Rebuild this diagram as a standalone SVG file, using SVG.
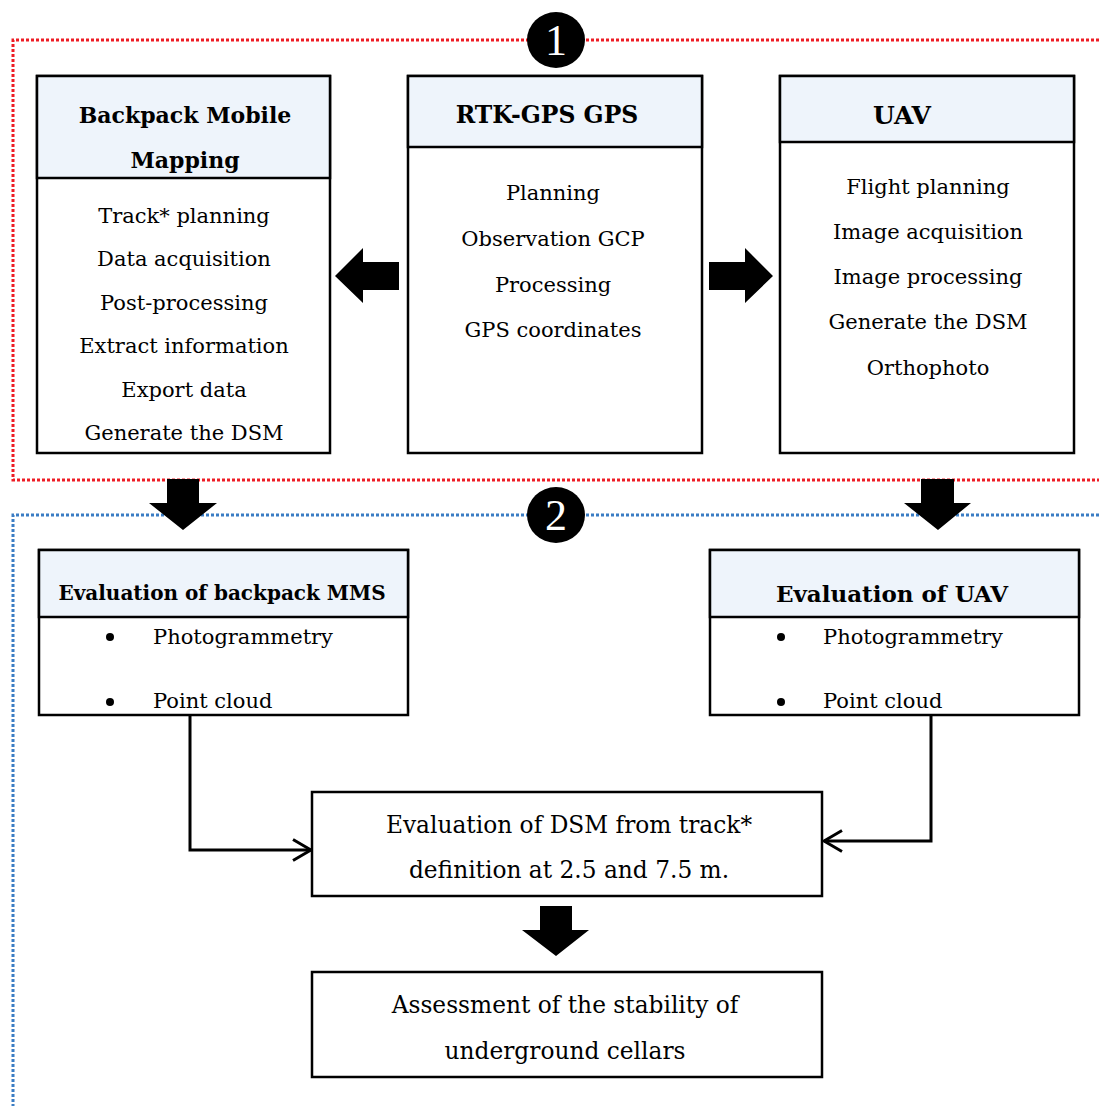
<svg xmlns="http://www.w3.org/2000/svg" width="1099" height="1106" viewBox="0 0 1099 1106">
<style>
.box{fill:#fff;stroke:#000;stroke-width:2.5}
.hdr{fill:#EEF4FB;stroke:#000;stroke-width:2.5}
.t{font-family:"DejaVu Serif","Liberation Serif",serif;font-size:21px;fill:#000;text-anchor:middle;dominant-baseline:central}
.tl{font-family:"DejaVu Serif","Liberation Serif",serif;font-size:21px;fill:#000;dominant-baseline:central}
.b{font-family:"DejaVu Serif","Liberation Serif",serif;font-size:22px;font-weight:bold;fill:#000;text-anchor:middle;dominant-baseline:central}
.lg{font-size:23.3px}
.num{font-family:"Liberation Serif",serif;font-size:44px;fill:#fff;text-anchor:middle;dominant-baseline:central}
.red{fill:none;stroke:#ee1c24;stroke-width:3;stroke-dasharray:3 2}
.blue{fill:none;stroke:#3b7dc4;stroke-width:3;stroke-dasharray:3 2}
.con{fill:none;stroke:#000;stroke-width:3}
.blk{fill:#000}
</style>
<defs>
<marker id="open" viewBox="0 0 22 24" refX="20" refY="12" markerWidth="22" markerHeight="24" markerUnits="userSpaceOnUse" orient="auto">
<path d="M2 1.5 L20 12 L2 22.5" fill="none" stroke="#000" stroke-width="3"/>
</marker>
</defs>
<g id="regions">
<path class="red" d="M1099 40 H13 V480 H1099"/>
<path class="blue" d="M1099 515 H13 V1106"/>
</g>
<g id="badge1">
<ellipse cx="556" cy="40" rx="29" ry="28" fill="#000"/>
<text class="num" x="556" y="40">1</text>
</g>
<g id="badge2">
<ellipse cx="556" cy="515" rx="29" ry="28" fill="#000"/>
<text class="num" x="556" y="515">2</text>
</g>
<g id="backpack">
<rect class="box" x="37" y="76" width="293" height="377"/>
<rect class="hdr" x="37" y="76" width="293" height="102"/>
<text class="b" x="185" y="115">Backpack Mobile</text>
<text class="b" x="185" y="160">Mapping</text>
<text class="t" x="184" y="216">Track* planning</text>
<text class="t" x="184" y="259">Data acquisition</text>
<text class="t" x="184" y="303">Post-processing</text>
<text class="t" x="184" y="346">Extract information</text>
<text class="t" x="184" y="390">Export data</text>
<text class="t" x="184" y="433">Generate the DSM</text>
</g>
<g id="rtk">
<rect class="box" x="408" y="76" width="294" height="377"/>
<rect class="hdr" x="408" y="76" width="294" height="71"/>
<text class="b" x="547" y="115" style="font-size:23.5px">RTK-GPS GPS</text>
<text class="t" x="553" y="193">Planning</text>
<text class="t" x="553" y="239">Observation GCP</text>
<text class="t" x="553" y="285">Processing</text>
<text class="t" x="553" y="330">GPS coordinates</text>
</g>
<g id="uav">
<rect class="box" x="780" y="76" width="294" height="377"/>
<rect class="hdr" x="780" y="76" width="294" height="66"/>
<text class="b" x="902" y="115" style="font-size:25px">UAV</text>
<text class="t" x="928" y="187">Flight planning</text>
<text class="t" x="928" y="232">Image acquisition</text>
<text class="t" x="928" y="277">Image processing</text>
<text class="t" x="928" y="322">Generate the DSM</text>
<text class="t" x="928" y="368">Orthophoto</text>
</g>
<g id="evalMMS">
<rect class="box" x="39" y="550" width="369" height="165"/>
<rect class="hdr" x="39" y="550" width="369" height="67"/>
<text class="b" x="222" y="593" style="font-size:20px">Evaluation of backpack MMS</text>
<circle cx="110" cy="637" r="4" class="blk"/>
<text class="tl" x="153" y="637">Photogrammetry</text>
<circle cx="110" cy="702" r="4" class="blk"/>
<text class="tl" x="153" y="701">Point cloud</text>
</g>
<g id="evalUAV">
<rect class="box" x="710" y="550" width="369" height="165"/>
<rect class="hdr" x="710" y="550" width="369" height="67"/>
<text class="b" x="892" y="593" style="font-size:23px">Evaluation of UAV</text>
<circle cx="781" cy="637" r="4" class="blk"/>
<text class="tl" x="823" y="637">Photogrammetry</text>
<circle cx="781" cy="702" r="4" class="blk"/>
<text class="tl" x="823" y="701">Point cloud</text>
</g>
<g id="evalDSM">
<rect class="box" x="312" y="792" width="510" height="104"/>
<text class="t lg" x="569" y="824">Evaluation of DSM from track*</text>
<text class="t lg" x="569" y="869">definition at 2.5 and 7.5 m.</text>
</g>
<g id="assessment">
<rect class="box" x="312" y="972" width="510" height="105"/>
<text class="t lg" x="565" y="1004">Assessment of the stability of</text>
<text class="t lg" x="565" y="1050">underground cellars</text>
</g>
<g id="connectors">
<path class="blk" d="M335 276 L363 248 L363 262 L399 262 L399 290 L363 290 L363 303 Z"/>
<path class="blk" d="M773 276 L745 248 L745 262 L709 262 L709 290 L745 290 L745 303 Z"/>
<path class="blk" d="M167 479 H199 V503 H217 L183 530 L149 503 H167 Z"/>
<path class="blk" d="M921 479 H954 V503 H971 L938 530 L904 503 H921 Z"/>
<path class="blk" d="M540 906 H572 V930 H589 L556 956 L522 930 H540 Z"/>
<path class="con" d="M190 715 V850 H311" marker-end="url(#open)"/>
<path class="con" d="M931 715 V841 H824" marker-end="url(#open)"/>
</g>
</svg>
